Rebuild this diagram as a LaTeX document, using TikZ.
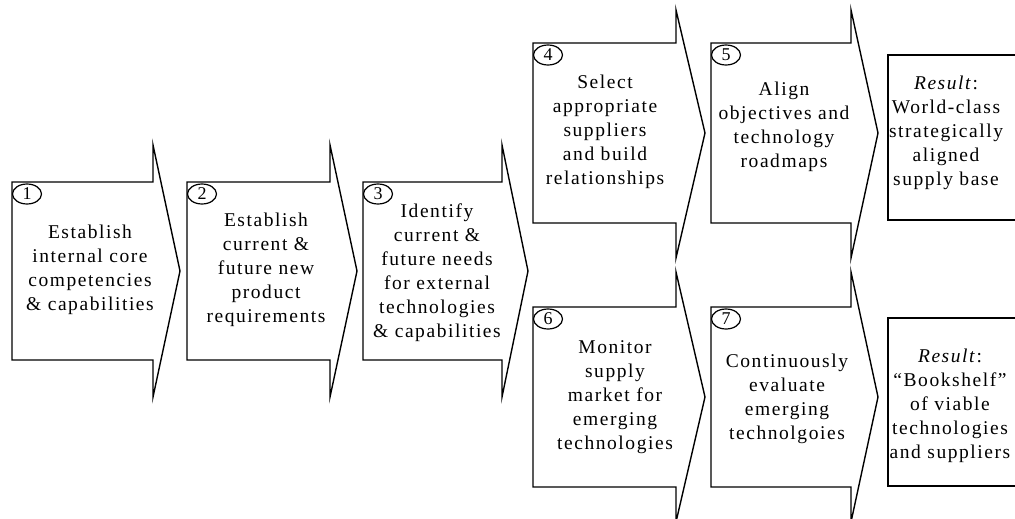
\documentclass[tikz,border=0pt]{standalone}
\usepackage{fontspec}
\setmainfont{Liberation Serif}[LetterSpace=8]
\usetikzlibrary{shapes.geometric}

% chevron-shaped step: box (L,T)-(R,B), head from HT to HB, tip at X
\newcommand\stepshape[7]{%
  \draw[outline] (#1,#2) -- (#3,#2) -- (#3,#5) -- (#7,{(#2+#4)/2})
    -- (#3,#6) -- (#3,#4) -- (#1,#4) -- cycle;}

\begin{document}
\begin{tikzpicture}[x=1pt,y=-1pt,
  outline/.style={draw=black, line width=1.4pt, line join=miter},
  steptext/.style={align=center, inner sep=0pt,
    font=\fontsize{19.5}{24}\selectfont},
  badge/.style={draw=black, line width=1.2pt, ellipse, inner sep=0pt,
    minimum width=29pt, minimum height=20pt,
    font=\fontsize{18}{18}\selectfont}]
\useasboundingbox (0,0) rectangle (1015,519);
\clip (0,0) rectangle (1015,519);

% first row of steps
\stepshape{12}{182}{153}{360}{145}{397}{180}
\stepshape{187}{182}{330}{360}{145}{397}{357}
\stepshape{363}{182}{502}{360}{145}{397}{528}

% upper branch
\stepshape{533}{43}{676}{223}{10}{258}{705}
\stepshape{711}{43}{851}{223}{10}{258}{878}
\draw[outline] (888,55) rectangle (1025,220);

% lower branch
\stepshape{533}{307}{676}{487}{272}{522}{705}
\stepshape{711}{307}{851}{487}{272}{522}{878}
\draw[outline] (888,318) rectangle (1025,486);

% numbered badges
\node[badge] (b1) at (27,194) {1};
\node[badge] (b2) at (202,194) {2};
\node[badge] (b3) at (378,194) {3};
\node[badge] (b4) at (548,55) {4};
\node[badge] (b5) at (726,55) {5};
\node[badge] (b6) at (548,319) {6};
\node[badge] (b7) at (726,319) {7};

% step texts
\node[steptext] (t1) at (90,270) {Establish\\internal core\\competencies\\\& capabilities};
\node[steptext] (t2) at (266,270) {Establish\\current \&\\future new\\product\\requirements};
\node[steptext] (t3) at (437,273) {Identify\\current \&\\future needs\\for external\\technologies\\\& capabilities};
\node[steptext] (t4) at (605,132) {Select\\appropriate\\suppliers\\and build\\relationships};
\node[steptext] (t5) at (784,127) {Align\\objectives and\\technology\\roadmaps};
\node[steptext] (r1) at (946,133) {\textit{Result}:\\World-class\\strategically\\aligned\\supply base};
\node[steptext] (t6) at (615,397) {Monitor\\supply\\market for\\emerging\\technologies};
\node[steptext] (t7) at (787,399) {Continuously\\evaluate\\emerging\\technolgoies};
\node[steptext] (r2) at (950,406) {\textit{Result}:\\“Bookshelf”\\of viable\\technologies\\and suppliers};
\end{tikzpicture}
\end{document}
